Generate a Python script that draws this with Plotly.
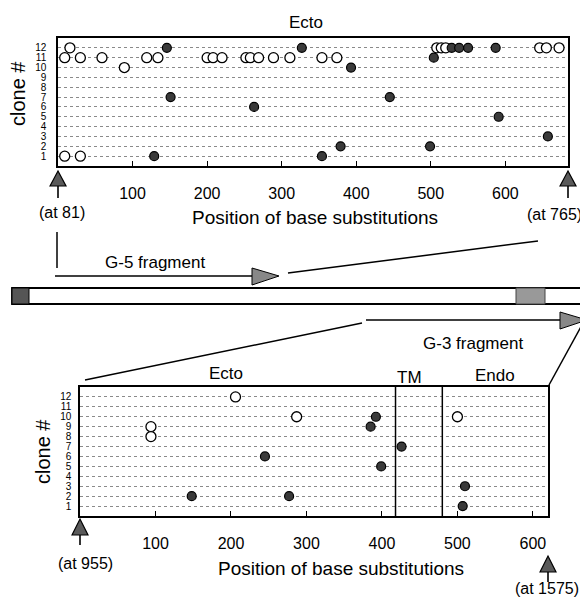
import plotly.graph_objects as go

# ---------------- data ----------------
clone_labels = [str(i) for i in range(1, 13)]
clone_rows = list(range(1, 13))
x_ticks = [100, 200, 300, 400, 500, 600]

# G-5 fragment (positions relative to nucleotide 81 .. 765)
g5_start, g5_end = 81, 765
top_open_clone = [12, 12, 12, 12, 12, 12, 12,
                  11, 11, 11, 11, 11, 11, 11, 11, 11, 11, 11, 11, 11, 11, 11,
                  10, 1, 1]
top_open_pos = [16, 508, 514, 520, 646, 655, 672,
                9, 30, 59, 119, 134, 200, 208, 220, 252, 258, 269, 289, 311, 354, 374,
                89, 9, 30]
top_filled_clone = [12, 12, 12, 12, 12, 12, 11, 10, 7, 7, 6, 5, 3, 2, 2, 1, 1]
top_filled_pos = [146, 327, 528, 538, 550, 587, 504, 393, 151, 445, 263, 591, 657, 379, 499, 129, 354]

# G-3 fragment (positions relative to nucleotide 955 .. 1575)
g3_start, g3_end = 955, 1575
tm_start, endo_start = 418, 480
bot_open_clone = [12, 10, 10, 9, 8]
bot_open_pos = [206, 287, 500, 94, 94]
bot_filled_clone = [10, 9, 7, 6, 5, 3, 2, 2, 1]
bot_filled_pos = [392, 385, 426, 245, 399, 510, 148, 277, 507]

# ---------------- layout helpers ----------------
# the page body has an 8px margin, so the figure is drawn 8px in from the window corner
OFF = 8
W, H = 580, 602
FONT = "Liberation Sans, Arial, Helvetica, sans-serif"


def px(x):
    return (x - OFF) / W


def py(y):
    return 1 - (y - OFF) / H


top_dom = [px(58), px(568)]
bot_dom = [px(80), px(548)]

fig = go.Figure()

open_marker = dict(symbol="circle", size=10, color="white", line=dict(color="black", width=1.3))
filled_marker = dict(symbol="circle", size=9, color="#3a3a3a", line=dict(color="black", width=1.2))

fig.add_trace(go.Scatter(x=top_open_pos, y=top_open_clone, mode="markers", marker=open_marker,
                         xaxis="x", yaxis="y", showlegend=False))
fig.add_trace(go.Scatter(x=top_filled_pos, y=top_filled_clone, mode="markers", marker=filled_marker,
                         xaxis="x", yaxis="y", showlegend=False))
fig.add_trace(go.Scatter(x=bot_open_pos, y=bot_open_clone, mode="markers", marker=open_marker,
                         xaxis="x2", yaxis="y2", showlegend=False))
fig.add_trace(go.Scatter(x=bot_filled_pos, y=bot_filled_clone, mode="markers", marker=filled_marker,
                         xaxis="x2", yaxis="y2", showlegend=False))

xcommon = dict(showline=True, mirror=True, linecolor="black", linewidth=1.5,
               ticks="inside", ticklen=5, tickwidth=1.2, tickcolor="black",
               tickvals=x_ticks, showgrid=False, zeroline=False,
               tickfont=dict(size=16, family=FONT, color="black"), ticklabelstandoff=12)
ycommon = dict(showline=True, mirror=True, linecolor="black", linewidth=1.5,
               ticks="", tickvals=clone_rows, ticktext=clone_labels, range=[0, 13],
               showgrid=True, griddash="dot", gridcolor="#8a8a8a", gridwidth=1,
               zeroline=False, tickfont=dict(size=10, family=FONT, color="black"))

fig.update_layout(
    width=W, height=H, margin=dict(l=0, r=0, t=0, b=0),
    paper_bgcolor="white", plot_bgcolor="white",
    font=dict(family=FONT, color="black"),
    xaxis=dict(domain=top_dom, range=[0, g5_end - g5_start], anchor="y", **xcommon),
    yaxis=dict(domain=[py(166), py(38)], anchor="x", ticklabelstandoff=8, **ycommon),
    xaxis2=dict(domain=bot_dom, range=[0, g3_end - g3_start], anchor="y2", **xcommon),
    yaxis2=dict(domain=[py(516), py(387)], anchor="x2", ticklabelstandoff=5, **ycommon),
)

shapes = []
# region separators in the G-3 panel
for v in (tm_start, endo_start):
    shapes.append(dict(type="line", xref="x2", yref="y2 domain", x0=v, x1=v, y0=0, y1=1,
                       line=dict(color="black", width=1.5)))


def up_arrow(xpaper, tip, base, stem):
    # arrows mark the two ends of each axis (its domain edges)
    return [
        dict(type="line", xref="paper", yref="paper", xsizemode="pixel", xanchor=xpaper,
             x0=0, x1=0, y0=py(base), y1=py(stem), line=dict(color="black", width=1.6)),
        dict(type="path", xref="paper", yref="paper", xsizemode="pixel", xanchor=xpaper,
             path=f"M -8,{py(base)} L 0,{py(tip)} L 8,{py(base)} Z",
             fillcolor="#5a5a5a", line=dict(color="black", width=1.2)),
    ]


shapes += up_arrow(top_dom[0], 171, 186, 198)
shapes += up_arrow(top_dom[1], 171, 186, 198)
shapes += up_arrow(bot_dom[0], 519, 535, 545)
shapes += up_arrow(bot_dom[1], 556, 572, 582)

line_k = dict(color="black", width=1.5)
# G-5 guide lines and arrow
shapes.append(dict(type="line", xref="paper", yref="paper", x0=px(57), x1=px(57), y0=py(232), y1=py(268), line=line_k))
shapes.append(dict(type="line", xref="paper", yref="paper", x0=px(55), x1=px(256), y0=py(276), y1=py(276), line=line_k))
shapes.append(dict(type="path", xref="paper", yref="paper",
                   path=f"M {px(252)},{py(268)} L {px(279)},{py(276)} L {px(252)},{py(285)} Z",
                   fillcolor="#888", line=dict(color="black", width=1)))
shapes.append(dict(type="line", xref="paper", yref="paper", x0=px(288), x1=px(538), y0=py(273), y1=py(241), line=line_k))

# gene bar
shapes.append(dict(type="rect", xref="paper", yref="paper", x0=px(12), x1=px(587), y0=py(304), y1=py(288),
                   fillcolor="white", line=dict(color="black", width=1.8)))
shapes.append(dict(type="rect", xref="paper", yref="paper", x0=px(12), x1=px(29), y0=py(304), y1=py(288),
                   fillcolor="#555", line=dict(color="black", width=1)))
shapes.append(dict(type="rect", xref="paper", yref="paper", x0=px(516), x1=px(545), y0=py(304), y1=py(288),
                   fillcolor="#999", line=dict(color="#444", width=1)))

# G-3 guide lines and arrow
shapes.append(dict(type="line", xref="paper", yref="paper", x0=px(85), x1=px(362), y0=py(380), y1=py(323), line=line_k))
shapes.append(dict(type="line", xref="paper", yref="paper", x0=px(366), x1=px(562), y0=py(320), y1=py(320), line=line_k))
shapes.append(dict(type="path", xref="paper", yref="paper",
                   path=f"M {px(560)},{py(312)} L {px(587)},{py(320)} L {px(560)},{py(329)} Z",
                   fillcolor="#888", line=dict(color="black", width=1)))
shapes.append(dict(type="line", xref="paper", yref="paper", x0=px(583), x1=px(549), y0=py(323), y1=py(385), line=line_k))

fig.update_layout(shapes=shapes)


def txt(x, y, s, size=17, xref="paper", angle=0):
    return dict(x=x if xref != "paper" else px(x), y=py(y), xref=xref, yref="paper", text=s,
                showarrow=False, xanchor="center", yanchor="middle", textangle=angle,
                font=dict(size=size, family=FONT, color="black"))


annotations = [
    txt(333, 22, "Ecto", 17, xref="x"),
    txt(18, 94, "clone #", 20, angle=-90),
    txt(62, 212, f"(at {g5_start})", 16),
    txt(554, 214, f"(at {g5_end})", 16),
    txt(315, 218, "Position of base substitutions", 19),
    txt(155, 262, "G-5 fragment", 17),
    txt(473, 343, "G-3 fragment", 17),
    txt(194, 373, "Ecto", 17, xref="x2"),
    txt((tm_start + endo_start) / 2 - 12, 377, "TM", 17, xref="x2"),
    txt((endo_start + g3_end - g3_start) / 2, 375, "Endo", 17, xref="x2"),
    txt(43, 452, "clone #", 20, angle=-90),
    txt(85, 563, f"(at {g3_start})", 16),
    txt(341, 568, "Position of base substitutions", 19),
    txt(547, 588, f"(at {g3_end})", 16),
]
fig.update_layout(annotations=annotations)

fig.write_html("out.html")
